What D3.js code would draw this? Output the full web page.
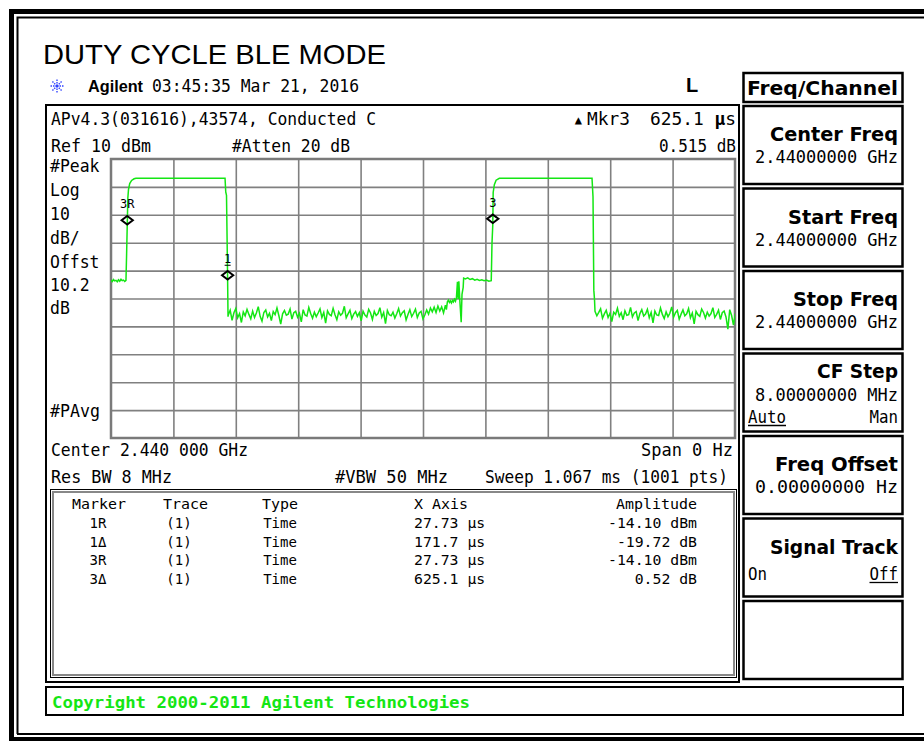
<!DOCTYPE html>
<html>
<head>
<meta charset="utf-8">
<script src="https://cdn.jsdelivr.net/npm/d3@7"></script>
<style>body{margin:0;background:#fff}</style>
</head>
<body>
<script>
// sweep settings
const sweepUs = 1067
const refLevel = 10
const dbPerDiv = 10
const divisions = 10

// trace, [time us, dBm]
const preLevel1 = [[0,-33.4],[2.1,-33.9],[4.3,-33.2],[6.4,-33.7],[8.5,-33.5],[10.7,-34.0],[12.8,-33.3],[14.9,-33.8],[17.1,-33.1],[19.2,-33.6],[21.3,-33.4],[23.5,-33.9],[25.6,-33.5]]
const pulse1 = [[26.7,-24],[27.73,-14.1],[28.8,-4.0],[29.9,-1.0],[32.0,1.2],[35.2,2.3],[39.5,2.9],[42.7,3.1],[195.0,3.1],[196.2,-1.8],[197.5,-3.0],[198.6,-20],[199.43,-33.82],[200.1,-46.5]]
const floor1Start = 200.6
const floorStep = 3.2
const floor1 = [-45.9,-44.2,-47.8,-45.1,-43.6,-46.9,-45.4,-48.6,-44.8,-46.2,
  -43.9,-45.7,-47.3,-44.5,-46.8,-45.2,-42.9,-46.4,-48.1,-45.0,
  -44.1,-46.6,-45.3,-47.9,-44.7,-45.8,-43.4,-46.1,-49.2,-45.5,
  -44.3,-46.0,-45.6,-43.8,-47.4,-45.1,-44.6,-46.7,-45.3,-48.4,
  -44.0,-45.9,-46.3,-43.2,-45.4,-47.1,-44.9,-46.5,-45.2,-43.7,
  -46.8,-45.0,-48.8,-44.4,-45.7,-46.2,-43.5,-45.8,-47.6,-44.8,
  -46.0,-45.3,-42.8,-46.9,-45.5,-44.2,-47.2,-45.6,-44.7,-46.4,
  -45.1,-48.0,-44.5,-45.9,-46.6,-43.9,-45.2,-47.5,-44.6,-46.1,
  -45.4,-43.3,-46.7,-45.0,-49.0,-44.3,-45.8,-46.2,-44.9,-47.0,
  -45.5,-43.6,-46.3,-45.1,-44.4,-47.7,-45.7,-44.0,-46.5,-45.3,
  -43.8,-46.8,-45.2,-44.6,-47.3,-45.9,-44.1,-45.6,-43.4,-44.8,
  -43.1,-45.0,-42.7,-44.5,-43.0,-45.2,-42.4]
const preLevel2 = [[573.5,-44.0],[575.2,-41.2],[577.0,-40.6],[578.7,-41.4],[580.4,-40.9],[582.1,-41.6],[583.8,-40.7],[585.5,-41.2],[587.2,-40.3],[589.0,-41.0],[590.7,-39.6],[592.4,-34.0],[593.6,-40.2],[594.8,-33.8],[596.5,-40.8],[598.8,-48.5],[600.2,-38.5],[602.2,-36.0],[603.0,-32.7],
  [606,-33.0],[610,-32.6],[614,-33.2],[618,-32.9],[622,-33.4],[626,-33.1],[630,-33.5],[634,-33.3],[638,-33.6],[642,-33.4],[646,-33.8],[650.2,-33.6]]
const pulse2 = [[651.5,-20],[652.83,-13.58],[653.5,-2.0],[655.5,0.8],[658.5,2.4],[664,3.1],[822.5,3.1],[824.2,-3.5],[825.6,-37.0],[826.8,-40.5]]
const floor2Start = 827.6
const floor2 = [-44.6,-46.2,-45.0,-43.7,-47.1,-45.5,-44.2,-46.8,-45.3,-48.3,
  -44.9,-45.7,-43.5,-46.4,-45.1,-47.6,-44.4,-46.0,-45.8,-43.2,
  -46.6,-45.2,-44.7,-47.9,-45.4,-44.0,-46.3,-45.6,-43.9,-46.9,
  -45.0,-48.7,-44.5,-45.9,-46.1,-43.4,-45.7,-47.2,-44.8,-46.5,
  -45.3,-43.0,-46.7,-45.1,-44.3,-47.4,-45.6,-44.1,-46.2,-45.5,
  -43.6,-46.9,-45.2,-49.1,-44.6,-45.8,-46.4,-43.8,-45.0,-47.0,
  -44.9,-46.3,-45.4,-43.3,-46.8,-45.7,-44.2,-47.5,-45.1,-44.5,
  -46.6,-51.0,-44.0,-46.1,-49.5,-45.3]

const markers = [
  {label: '3R', t: 27.73, v: -14.10},
  {label: '1', t: 199.43, v: -33.82},
  {label: '3', t: 652.83, v: -13.58}
]

const leftLabels = ['#Peak', 'Log', '10', 'dB/', 'Offst', '10.2', 'dB']
const tableHead = ['Marker', 'Trace', 'Type', 'X Axis', 'Amplitude']
const tableRows = [
  ['1R', '(1)', 'Time', '27.73 \u00b5s', '-14.10 dBm'],
  ['1\u0394', '(1)', 'Time', '171.7 \u00b5s', '-19.72 dB'],
  ['3R', '(1)', 'Time', '27.73 \u00b5s', '-14.10 dBm'],
  ['3\u0394', '(1)', 'Time', '625.1 \u00b5s', '0.52 dB']
]
const softkeys = [
  {title: 'Center Freq', value: '2.44000000 GHz'},
  {title: 'Start Freq', value: '2.44000000 GHz'},
  {title: 'Stop Freq', value: '2.44000000 GHz'},
  {title: 'CF Step', value: '8.00000000 MHz', left: 'Auto', right: 'Man', under: 'left'},
  {title: 'Freq Offset', value: '0.00000000  Hz'},
  {title: 'Signal Track', left: 'On', right: 'Off', under: 'right'},
  {title: ''}
]

const W = 924, H = 741
const mono = "'DejaVu Sans Mono', monospace"
const sans = "'DejaVu Sans', sans-serif"
const green = '#14e614'

const svg = d3.select('body').append('svg')
  .attr('width', W)
  .attr('height', H)

function txt(x, y, s, o = {}) {
  const t = svg.append('text')
    .attr('x', x).attr('y', y)
    .attr('font-family', o.family || mono)
    .attr('font-size', o.size || 17)
    .attr('font-weight', o.weight || 'normal')
    .attr('fill', o.fill || '#000')
    .attr('text-anchor', o.anchor || 'start')
    .text(s)
  if (o.len) t.attr('textLength', o.len).attr('lengthAdjust', 'spacingAndGlyphs')
  return t
}

// outer double frame
svg.append('rect').attr('x', 9).attr('y', 9).attr('width', W - 9).attr('height', 5)
svg.append('rect').attr('x', 9).attr('y', 9).attr('width', 5).attr('height', H - 9)
svg.append('rect').attr('x', 9).attr('y', 737).attr('width', W - 9).attr('height', 5)
svg.append('path').attr('d', `M17.5,${H - 7}V17.5H${W}M17,734H${W}`)
  .attr('fill', 'none').attr('stroke', '#000').attr('stroke-width', 2)

// title and header
txt(43, 64, 'DUTY CYCLE BLE MODE', {family: "'Liberation Sans', Arial, sans-serif", size: 28, len: 343})
const star = svg.append('g').attr('transform', 'translate(57,86)')
d3.range(8).forEach(i => {
  const a = i * Math.PI / 4
  star.append('line').attr('x1', 0).attr('y1', 0)
    .attr('x2', 6.5 * Math.cos(a)).attr('y2', 6.5 * Math.sin(a))
    .attr('stroke', '#3344ff').attr('stroke-width', 1.4).attr('stroke-dasharray', '1.5,1')
})
txt(88, 92, 'Agilent', {family: "'Liberation Sans', Arial, sans-serif", size: 17, weight: 'bold', len: 55})
txt(152, 92, '03:45:35  Mar 21, 2016', {size: 17, len: 207})
txt(686, 92, 'L', {family: "'Liberation Sans', Arial, sans-serif", size: 20, weight: 'bold'})

// instrument screen
svg.append('rect').attr('x', 46).attr('y', 105).attr('width', 693).attr('height', 577)
  .attr('fill', 'none').attr('stroke', '#000').attr('stroke-width', 2)

txt(51, 125, 'APv4.3(031616),43574, Conducted C', {len: 325})
txt(51, 152, 'Ref 10 dBm', {len: 100})
txt(232, 152, '#Atten 20 dB', {len: 118})
txt(582, 124, '\u25b2', {size: 12, anchor: 'end'})
txt(587, 125, 'Mkr3', {len: 43})
const mk = txt(736, 125, '625.1 ', {anchor: 'end', len: 86})
mk.append('tspan').attr('font-weight', 'bold').text('\u00b5')
mk.append('tspan').text('s')
txt(736, 152, '0.515 dB', {anchor: 'end', len: 77})

const lblY = [172, 196, 220, 244, 268, 291, 314]
leftLabels.forEach((s, i) => txt(50, lblY[i], s, {len: s.length * 9.9}))
txt(50, 417, '#PAvg', {len: 50})

// plot area
const plotL = 111, plotR = 735, plotT = 159, plotB = 438
const x = d3.scaleLinear().domain([0, sweepUs]).range([plotL, plotR])
const y = d3.scaleLinear().domain([refLevel - dbPerDiv * divisions, refLevel]).range([plotB, plotT])

const grid = svg.append('g')
grid.append('g')
  .attr('transform', `translate(0,${plotB})`)
  .call(d3.axisBottom(x)
    .tickValues(d3.range(1, divisions).map(i => i * sweepUs / divisions))
    .tickSize(-(plotB - plotT)).tickFormat(''))
grid.append('g')
  .attr('transform', `translate(${plotL},0)`)
  .call(d3.axisLeft(y)
    .tickValues(d3.range(1, divisions).map(i => refLevel - i * dbPerDiv))
    .tickSize(-(plotR - plotL)).tickFormat(''))
grid.selectAll('.domain').remove()
grid.selectAll('.tick line').attr('stroke', '#808080').attr('stroke-width', 1.6)

svg.append('rect').attr('x', plotL).attr('y', plotT)
  .attr('width', plotR - plotL).attr('height', plotB - plotT)
  .attr('fill', 'none').attr('stroke', '#7a7a7a').attr('stroke-width', 2.5)

svg.append('clipPath').attr('id', 'clip')
  .append('rect').attr('x', plotL).attr('y', plotT)
  .attr('width', plotR - plotL).attr('height', plotB - plotT)

const trace = [].concat(
  preLevel1,
  pulse1,
  floor1.map((v, i) => [floor1Start + i * floorStep, v]),
  preLevel2,
  pulse2,
  floor2.map((v, i) => [floor2Start + i * floorStep, v])
)

svg.append('path')
  .datum(trace)
  .attr('clip-path', 'url(#clip)')
  .attr('fill', 'none')
  .attr('stroke', green)
  .attr('stroke-width', 1.5)
  .attr('d', d3.line().x(d => x(d[0])).y(d => y(d[1])))

// marker diamonds
markers.forEach(m => {
  const cx = x(m.t), cy = y(m.v) - 6
  svg.append('path')
    .attr('d', `M${cx},${cy - 4.2}L${cx + 5.6},${cy}L${cx},${cy + 4.2}L${cx - 5.6},${cy}Z`)
    .attr('fill', 'none').attr('stroke', '#000').attr('stroke-width', 2)
  txt(cx, cy - 12, m.label, {size: 12, anchor: 'middle'})
  if (m.label === '1') {
    svg.append('line').attr('x1', cx - 3).attr('x2', cx + 3)
      .attr('y1', cy - 10).attr('y2', cy - 10)
      .attr('stroke', '#000').attr('stroke-width', 1)
  }
})

// settings under the graticule
txt(51, 456, 'Center 2.440 000 GHz', {len: 197})
txt(733, 456, 'Span 0 Hz', {anchor: 'end', len: 92})
txt(51, 483, 'Res BW 8 MHz', {len: 121})
txt(335, 483, '#VBW 50 MHz', {len: 113})
txt(728, 483, 'Sweep 1.067 ms (1001 pts)', {anchor: 'end', len: 243})

// marker table
svg.append('rect').attr('x', 50.5).attr('y', 489.5).attr('width', 686).attr('height', 188)
  .attr('fill', 'none').attr('stroke', '#000').attr('stroke-width', 1)
svg.append('rect').attr('x', 53).attr('y', 492).attr('width', 681).attr('height', 183)
  .attr('fill', 'none').attr('stroke', '#888').attr('stroke-width', 2)

const colX = [72, 163, 262, 414, 697]
const rowCX = [98, 179, 280]
tableHead.forEach((s, i) => txt(colX[i], 509, s, {size: 14, anchor: i === 4 ? 'end' : 'start', len: s.length * 9}))
tableRows.forEach((r, j) => {
  const yy = 528 + j * 18.6
  r.forEach((s, i) => {
    if (i < 3) txt(rowCX[i], yy, s, {size: 14, anchor: 'middle'})
    else txt(colX[i], yy, s, {size: 14, anchor: i === 4 ? 'end' : 'start', len: s.length * 8.9})
  })
})

// softkey panel
svg.append('rect').attr('x', 743.5).attr('y', 73).attr('width', 159).attr('height', 29)
  .attr('fill', 'none').attr('stroke', '#000').attr('stroke-width', 2.5)
txt(898, 95, 'Freq/Channel', {family: sans, size: 19.5, weight: 'bold', anchor: 'end', len: 151})

softkeys.forEach((k, i) => {
  const top = 106 + i * 82.5
  svg.append('rect').attr('x', 743.5).attr('y', top).attr('width', 159).attr('height', 78)
    .attr('fill', 'none').attr('stroke', '#000').attr('stroke-width', 2.5)
  if (!k.title) return
  const narrow = k.left && k.value
  const titleY = narrow ? top + 24 : top + 35
  const tl = {'Center Freq': 128, 'Start Freq': 110, 'Stop Freq': 105, 'CF Step': 81, 'Freq Offset': 123, 'Signal Track': 128}
  txt(898, titleY, k.title, {family: sans, size: 19.5, weight: 'bold', anchor: 'end', len: tl[k.title]})
  if (k.value) txt(898, narrow ? top + 47 : top + 57, k.value, {size: 17.5, anchor: 'end', len: 143})
  if (k.left) {
    const ly = narrow ? top + 69 : top + 61
    txt(748, ly, k.left, {size: 17.5, len: k.left.length * 9.5})
    txt(898, ly, k.right, {size: 17.5, anchor: 'end', len: k.right.length * 9.5})
    const u = k.under === 'left' ? [748, 748 + k.left.length * 9.5] : [898 - k.right.length * 9.5, 898]
    svg.append('line').attr('x1', u[0]).attr('x2', u[1]).attr('y1', ly + 3).attr('y2', ly + 3)
      .attr('stroke', '#000').attr('stroke-width', 1.3)
  }
})

// copyright strip
svg.append('rect').attr('x', 46).attr('y', 687).attr('width', 857).attr('height', 28)
  .attr('fill', 'none').attr('stroke', '#000').attr('stroke-width', 2)
txt(52, 708, 'Copyright 2000-2011 Agilent Technologies', {size: 16, weight: 'bold', fill: green, len: 418})
</script>
</body>
</html>
